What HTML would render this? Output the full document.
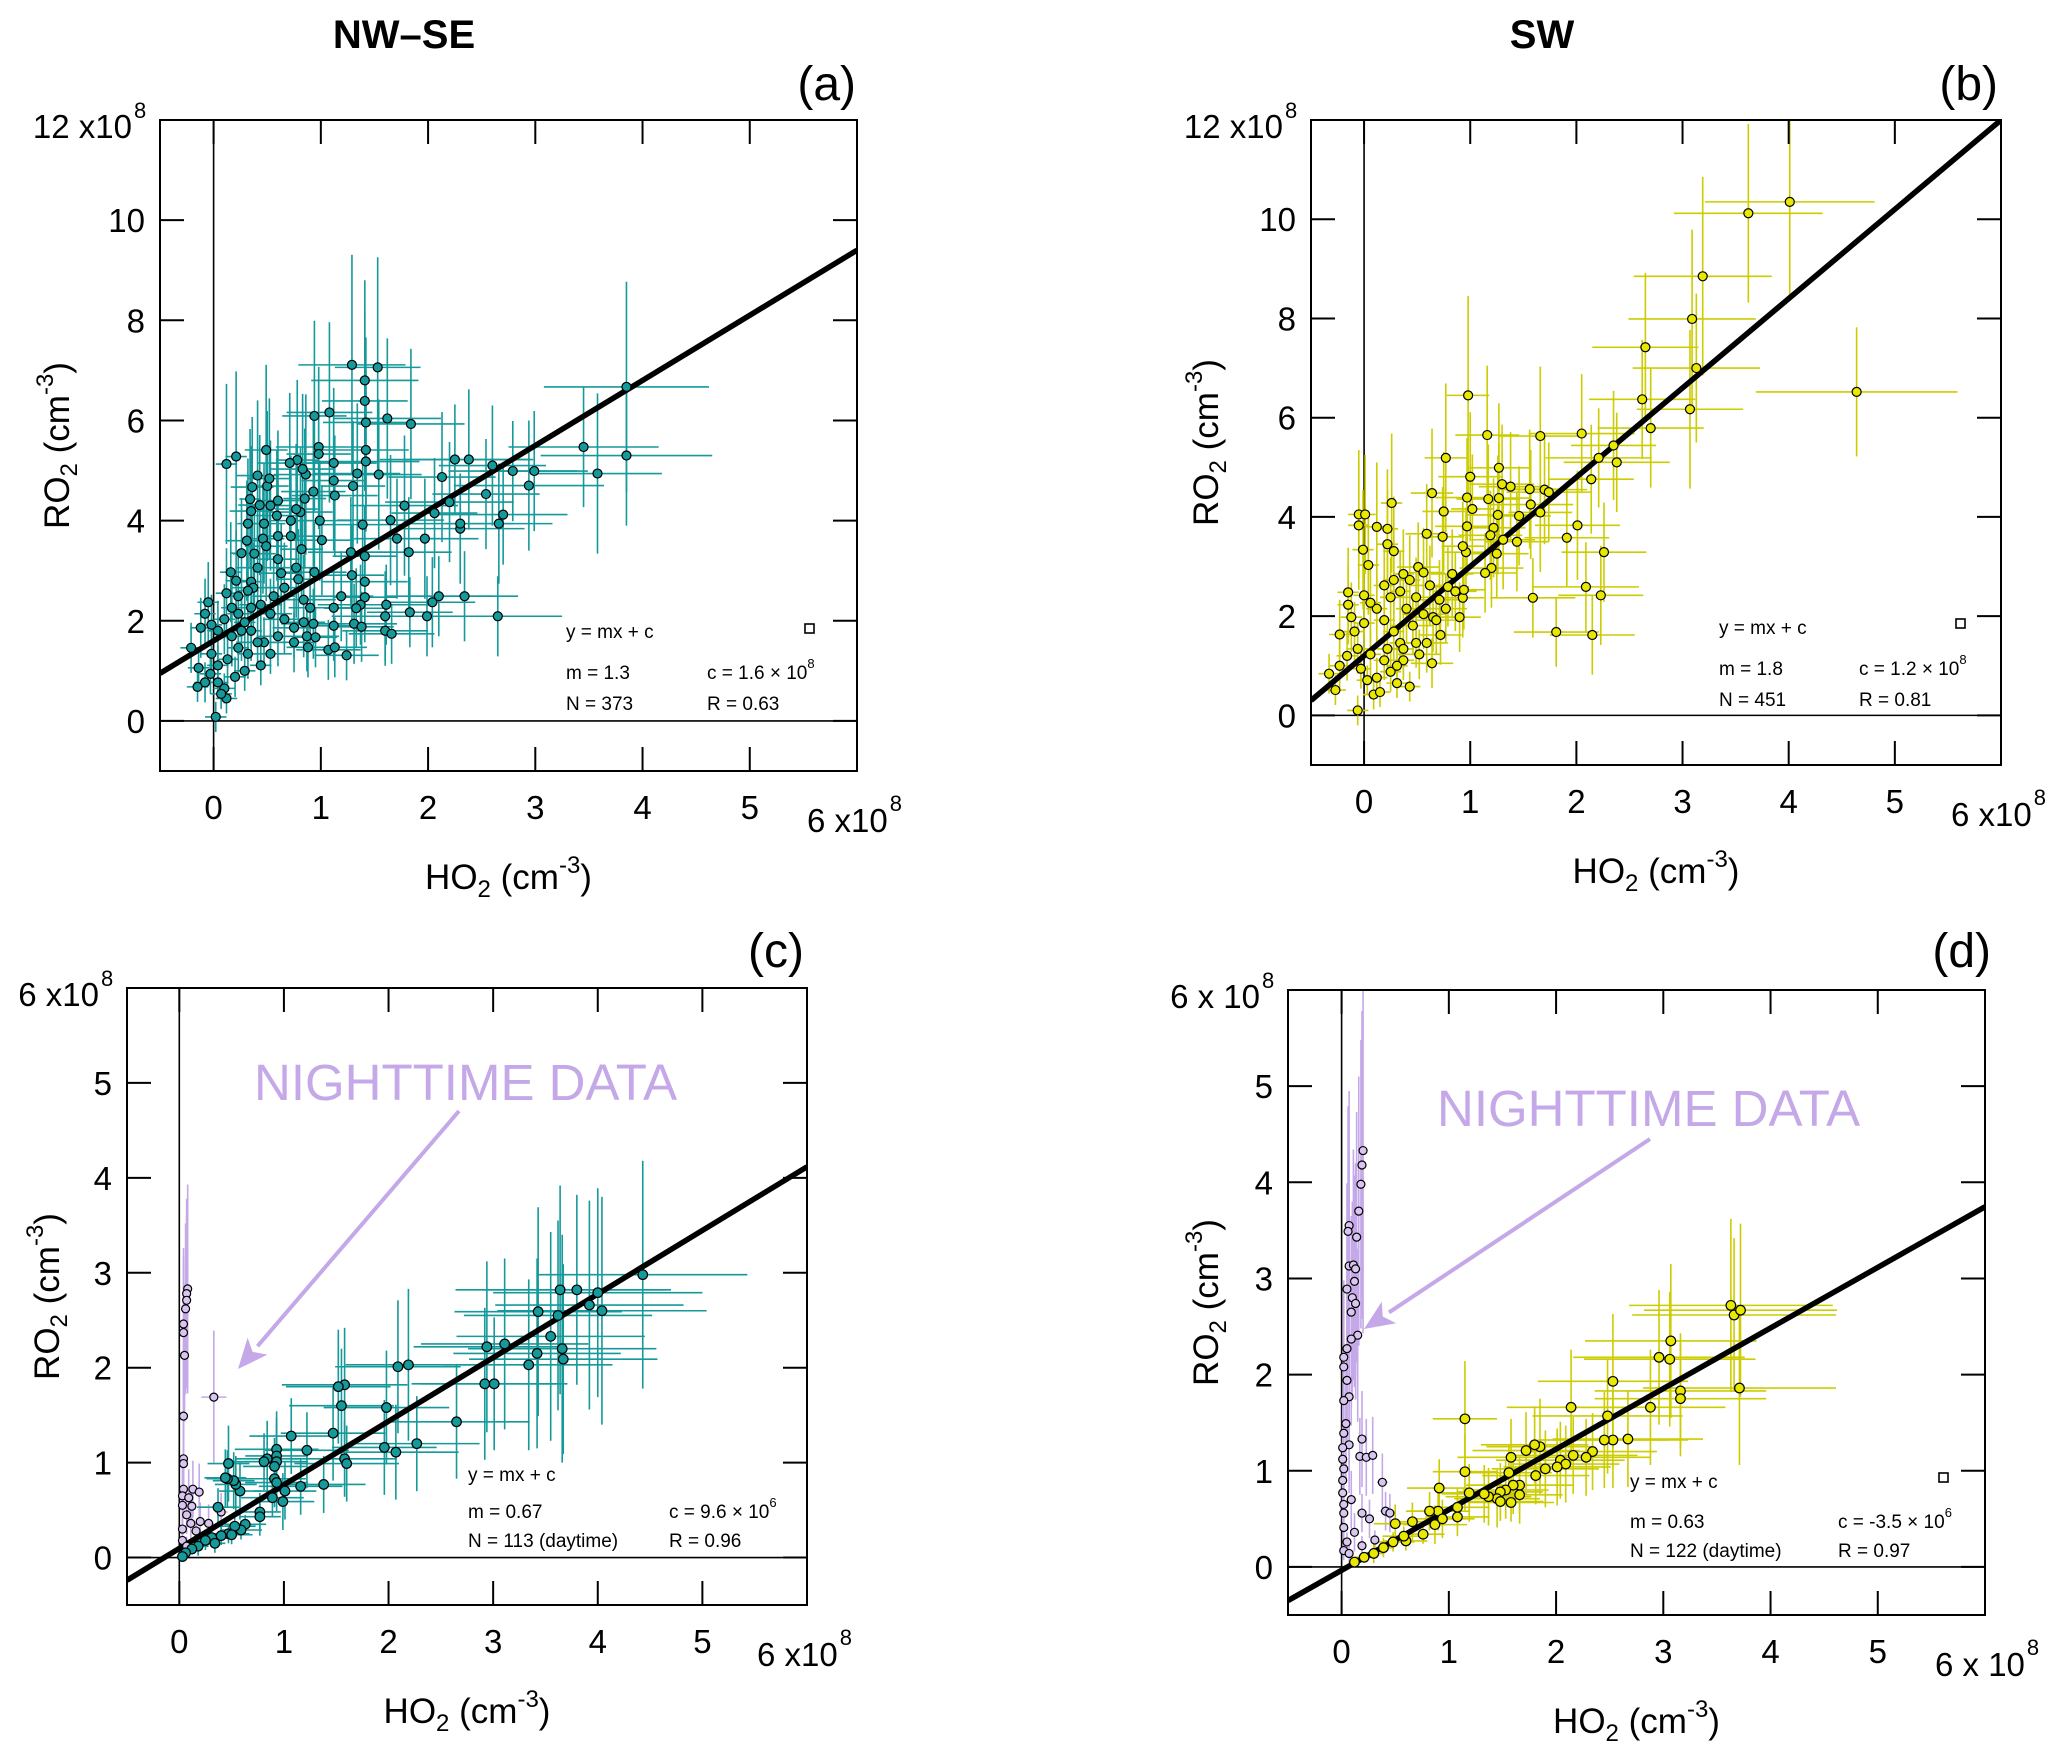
<!DOCTYPE html>
<html><head><meta charset="utf-8"><style>
html,body{margin:0;padding:0;background:#fff}
svg{display:block}
text{font-family:"Liberation Sans",Arial,sans-serif;fill:#000}
</style></head><body>
<svg id="fig" width="2067" height="1758" viewBox="0 0 2067 1758" xmlns="http://www.w3.org/2000/svg">
<text x="404" y="48" font-size="40" font-weight="bold" text-anchor="middle">NW–SE</text>
<text x="1542" y="48" font-size="40" font-weight="bold" text-anchor="middle">SW</text>
</svg>
<script>
// ---- data (units of 1e8 cm^-3): [x, y, xErr, yErr]
const panelA_points = [[3.85,6.67,0.77,2.1],[3.85,5.3,0.8,1.4],[3.45,5.47,0.7,1.2],[3.58,4.94,0.6,1.6],[2.94,4.7,0.7,1.3],[2.99,4.99,0.5,1.2],[2.38,5.22,0.6,1.4],[2.25,5.22,0.7,1.1],[2.6,5.1,0.5,1.2],[2.79,4.99,0.6,1.0],[2.54,4.53,0.5,1.1],[2.2,4.37,0.6,1.2],[2.13,4.87,0.5,1.3],[2.7,4.12,0.6,1.0],[2.66,3.94,0.5,1.2],[2.3,3.84,0.6,1.1],[2.3,3.94,0.5,1.0],[2.06,4.15,0.4,1.1],[1.97,3.64,0.5,1.2],[1.78,4.3,0.5,1.4],[1.82,3.37,0.4,1.1],[1.71,3.64,0.4,1.2],[1.65,4.01,0.5,1.3],[2.65,2.09,0.6,0.8],[2.34,2.49,0.5,0.9],[2.1,2.49,0.5,0.8],[2.04,2.37,0.4,0.9],[1.99,2.09,0.5,0.8],[1.83,2.17,0.4,0.7],[1.61,2.32,0.4,0.8],[1.6,2.09,0.5,0.9],[1.6,1.8,0.4,0.7],[1.66,1.74,0.4,0.6],[1.29,7.11,0.5,2.2],[1.53,7.06,0.4,2.2],[1.41,6.8,0.5,2.0],[1.41,6.39,0.4,1.8],[1.42,5.96,0.4,1.7],[1.62,6.04,0.5,1.6],[1.84,5.93,0.5,1.5],[1.08,6.16,0.4,1.8],[0.94,6.09,0.3,1.9],[0.98,5.47,0.4,1.6],[0.98,5.33,0.3,1.5],[1.12,5.15,0.4,1.5],[1.42,5.41,0.4,1.6],[1.42,5.18,0.5,1.4],[1.54,4.92,0.4,1.5],[1.34,4.94,0.4,1.4],[1.3,4.69,0.3,1.3],[1.13,4.5,0.4,1.2],[1.12,4.8,0.3,1.4],[0.99,4.0,0.3,1.2],[1.01,3.61,0.3,1.1],[1.39,3.92,0.4,1.2],[1.41,3.29,0.3,1.0],[1.28,3.37,0.4,1.1],[1.29,2.91,0.3,1.0],[1.41,2.78,0.4,0.9],[1.41,2.47,0.3,0.9],[1.37,2.32,0.4,0.8],[1.33,2.25,0.3,0.8],[1.31,1.94,0.4,0.8],[1.38,1.88,0.3,0.7],[1.19,2.49,0.3,0.9],[1.12,2.26,0.3,0.8],[1.12,1.9,0.3,0.7],[1.07,1.42,0.3,0.6],[1.13,1.47,0.3,0.6],[1.24,1.31,0.3,0.5],[0.84,2.42,0.3,0.9],[0.9,2.26,0.2,0.8],[0.93,1.94,0.3,0.7],[0.88,1.47,0.2,0.6],[0.87,1.69,0.3,0.7],[0.95,1.67,0.2,0.6],[0.94,2.97,0.3,1.0],[0.93,4.58,0.3,1.5],[0.86,4.92,0.3,1.6],[0.83,5.03,0.3,1.5],[0.78,5.21,0.2,1.6],[0.71,5.15,0.3,1.4],[0.85,4.44,0.2,1.4],[0.81,4.17,0.3,1.3],[0.77,4.23,0.2,1.3],[0.72,4.0,0.2,1.3],[0.72,3.69,0.3,1.2],[0.82,3.43,0.2,1.1],[0.77,3.06,0.2,1.0],[0.79,2.83,0.2,1.0],[0.6,4.4,0.2,1.4],[0.53,4.3,0.2,1.3],[0.59,4.1,0.2,1.3],[0.47,3.94,0.2,1.2],[0.43,4.31,0.2,1.4],[0.5,4.69,0.2,1.5],[0.52,4.84,0.2,1.6],[0.49,5.41,0.2,1.7],[0.41,4.9,0.2,1.5],[0.36,4.67,0.2,1.4],[0.34,4.43,0.1,1.4],[0.35,4.19,0.2,1.3],[0.32,3.94,0.1,1.3],[0.31,3.6,0.2,1.2],[0.26,3.35,0.1,1.1],[0.46,3.64,0.2,1.1],[0.49,3.49,0.2,1.1],[0.38,3.34,0.2,1.0],[0.41,3.06,0.2,1.0],[0.35,2.78,0.1,0.9],[0.37,2.66,0.2,0.9],[0.32,2.6,0.1,0.9],[0.16,2.97,0.1,1.0],[0.21,2.8,0.1,1.0],[0.12,2.55,0.1,0.9],[0.12,5.13,0.1,1.6],[0.21,5.28,0.1,1.7],[0.6,3.69,0.2,1.1],[0.6,3.23,0.2,1.0],[0.63,2.95,0.2,1.0],[0.66,2.66,0.2,0.9],[0.56,2.49,0.2,0.8],[0.44,2.32,0.2,0.8],[0.53,2.14,0.2,0.7],[0.66,2.03,0.2,0.7],[0.75,1.86,0.2,0.6],[0.84,1.97,0.2,0.7],[0.75,1.57,0.2,0.6],[0.6,1.69,0.2,0.6],[0.47,1.57,0.2,0.5],[0.35,1.8,0.1,0.6],[0.29,1.97,0.1,0.7],[0.23,2.14,0.1,0.7],[0.17,2.26,0.1,0.8],[0.1,2.03,0.1,0.7],[0.04,1.8,0.1,0.6],[-0.02,1.92,0.1,0.6],[-0.05,2.37,0.1,0.8],[-0.08,2.14,0.1,0.7],[-0.12,1.86,0.1,0.6],[-0.21,1.46,0.1,0.5],[-0.14,1.06,0.1,0.4],[-0.08,0.77,0.1,0.4],[-0.15,0.68,0.1,0.3],[-0.02,1.34,0.1,0.5],[0.04,1.11,0.1,0.4],[0.13,1.23,0.1,0.5],[0.23,1.46,0.1,0.5],[0.32,1.34,0.1,0.5],[0.41,1.57,0.2,0.5],[0.53,1.34,0.2,0.4],[0.44,1.11,0.1,0.4],[0.29,1.0,0.1,0.4],[0.2,0.88,0.1,0.4],[0.1,0.65,0.1,0.3],[0.04,0.77,0.1,0.3],[0.12,0.45,0.1,0.3],[0.02,0.08,0.1,0.3],[0.07,0.54,0.1,0.3],[-0.03,0.94,0.1,0.4],[0.17,1.69,0.1,0.6],[0.26,1.8,0.1,0.6],[0.35,2.26,0.1,0.8],[0.23,2.49,0.1,0.8]];
const panelB_points = [[4.01,10.35,0.8,2.0],[3.62,10.12,0.7,1.8],[3.19,8.85,0.65,2.0],[3.09,7.99,0.6,1.8],[3.13,7.0,0.6,1.5],[3.07,6.17,0.5,1.6],[2.65,7.42,0.5,1.5],[2.62,6.37,0.5,1.2],[2.7,5.79,0.5,1.2],[4.64,6.52,0.95,1.3],[2.38,5.1,0.5,1.0],[2.35,5.44,0.4,1.1],[2.21,5.19,0.5,1.0],[2.14,4.76,0.4,1.1],[2.05,5.68,0.5,1.2],[2.01,3.83,0.4,1.1],[1.91,3.58,0.4,1.0],[2.26,3.29,0.4,1.0],[2.09,2.59,0.5,0.9],[2.23,2.42,0.4,1.0],[2.15,1.62,0.4,0.8],[1.81,1.68,0.4,0.7],[1.59,2.37,0.4,0.8],[1.66,5.63,0.4,1.4],[1.7,4.55,0.4,1.1],[1.74,4.5,0.4,1.0],[1.66,4.09,0.3,1.2],[1.57,4.25,0.4,1.1],[1.56,4.56,0.3,1.2],[1.46,4.02,0.3,1.0],[1.44,3.5,0.3,1.0],[1.31,3.54,0.3,1.0],[1.26,4.04,0.3,1.2],[1.22,3.78,0.3,1.0],[1.27,4.38,0.3,1.1],[1.3,4.66,0.3,1.2],[1.27,4.99,0.3,1.3],[1.38,4.61,0.3,1.1],[1.17,4.36,0.3,1.1],[1.16,5.65,0.3,1.4],[1.19,3.63,0.3,0.9],[1.25,3.26,0.3,0.9],[1.2,2.97,0.3,0.8],[1.14,2.87,0.3,0.8],[0.98,6.45,0.2,2.0],[1.0,4.81,0.3,1.3],[0.97,4.39,0.3,1.2],[1.02,4.16,0.2,1.1],[0.97,3.81,0.3,1.0],[0.96,3.29,0.2,0.9],[0.93,3.41,0.2,0.9],[0.93,2.37,0.2,0.8],[0.94,2.53,0.2,0.8],[0.9,1.98,0.2,0.7],[0.79,2.59,0.2,0.8],[0.77,5.19,0.2,1.5],[0.75,4.11,0.2,1.2],[0.74,3.6,0.2,1.0],[0.64,4.48,0.2,1.3],[0.59,3.66,0.2,1.0],[0.51,2.99,0.2,0.9],[0.56,2.88,0.2,0.9],[0.71,2.33,0.2,0.8],[0.65,1.98,0.2,0.7],[0.72,1.62,0.2,0.6],[0.59,1.46,0.2,0.6],[0.64,1.05,0.2,0.5],[0.43,0.58,0.1,0.3],[0.26,4.28,0.1,1.4],[0.28,3.31,0.1,1.1],[0.22,3.76,0.1,1.2],[0.22,3.45,0.1,1.1],[0.12,3.8,0.1,1.3],[0.04,3.03,0.1,1.0],[-0.01,3.34,0.1,1.2],[-0.05,3.83,0.1,1.3],[-0.05,4.05,0.1,1.3],[0.01,4.05,0.1,1.2],[0.0,2.42,0.1,0.9],[-0.15,2.48,0.1,0.9],[-0.15,2.23,0.1,0.8],[-0.23,1.63,0.1,0.7],[-0.33,0.84,0.1,0.4],[-0.27,0.51,0.1,0.3],[-0.23,1.0,0.1,0.5],[-0.16,1.2,0.1,0.5],[-0.06,0.1,0.1,0.3],[-0.06,1.34,0.1,0.5],[0.06,1.23,0.1,0.5],[0.19,1.11,0.1,0.4],[0.12,0.76,0.1,0.4],[0.25,0.88,0.1,0.4],[0.09,0.42,0.1,0.3],[0.15,0.47,0.1,0.3],[0.31,0.65,0.1,0.3],[0.37,1.11,0.1,0.4],[0.34,1.46,0.1,0.5],[0.28,1.69,0.1,0.6],[0.19,1.92,0.1,0.7],[0.12,2.15,0.1,0.7],[0.25,2.38,0.1,0.8],[0.34,2.5,0.1,0.8],[0.4,2.15,0.1,0.7],[0.46,1.81,0.2,0.6],[0.56,2.04,0.2,0.7],[0.49,2.38,0.2,0.8],[0.43,2.73,0.1,0.9],[0.37,2.85,0.1,0.9],[0.28,2.73,0.1,0.9],[0.19,2.62,0.1,0.8],[0.06,2.27,0.1,0.8],[0.0,1.86,0.1,0.6],[-0.09,1.69,0.1,0.6],[-0.12,1.98,0.1,0.7],[-0.03,0.94,0.1,0.4],[0.03,0.71,0.1,0.3],[0.22,1.34,0.1,0.5],[0.37,1.34,0.1,0.5],[0.49,1.46,0.2,0.5],[0.68,1.92,0.2,0.7],[0.77,2.15,0.2,0.7],[0.86,2.5,0.2,0.8],[0.83,2.85,0.2,0.9],[0.62,2.62,0.2,0.8],[0.52,1.23,0.2,0.5],[0.31,1.0,0.1,0.4]];
const panelC_day = [[4.43,2.98,1.0,1.2],[4.0,2.79,1.0,1.1],[4.04,2.6,1.0,1.2],[3.92,2.66,0.9,1.1],[3.8,2.82,0.9,1.0],[3.64,2.82,1.0,1.1],[3.62,2.55,0.9,1.0],[3.43,2.59,0.8,1.1],[3.66,2.2,0.9,1.2],[3.67,2.09,0.9,1.0],[3.42,2.15,0.8,1.0],[3.34,2.03,0.8,0.9],[3.55,2.33,0.9,1.1],[3.11,2.25,0.8,0.9],[2.94,2.22,0.7,0.9],[2.92,1.83,0.7,0.8],[3.01,1.83,0.7,0.7],[2.65,1.43,0.7,0.6],[2.19,2.03,0.6,0.8],[2.09,2.01,0.6,0.7],[1.98,1.58,0.6,0.6],[1.96,1.16,0.5,0.5],[2.07,1.11,0.6,0.5],[2.27,1.2,0.6,0.5],[1.58,1.82,0.6,0.6],[1.52,1.8,0.5,0.6],[1.55,1.6,0.5,0.6],[1.47,1.31,0.5,0.5],[1.58,1.04,0.5,0.4],[1.6,0.99,0.5,0.4],[1.38,0.77,0.4,0.3],[1.16,0.75,0.4,0.3],[1.22,1.13,0.4,0.4],[1.07,1.28,0.4,0.4],[1.01,0.7,0.3,0.3],[0.99,0.59,0.3,0.3],[0.93,1.14,0.4,0.4],[0.93,1.07,0.3,0.4],[0.93,1.01,0.3,0.4],[0.91,0.96,0.3,0.3],[0.91,0.83,0.3,0.3],[0.93,0.79,0.3,0.3],[0.89,0.63,0.3,0.2],[0.84,1.04,0.3,0.4],[0.81,1.01,0.3,0.3],[0.77,0.48,0.2,0.2],[0.77,0.43,0.2,0.2],[0.58,0.7,0.2,0.3],[0.54,0.77,0.2,0.3],[0.52,0.81,0.2,0.3],[0.46,0.83,0.2,0.3],[0.44,0.84,0.2,0.3],[0.47,0.99,0.2,0.4],[0.37,0.53,0.2,0.2],[0.63,0.35,0.2,0.1],[0.59,0.29,0.2,0.1],[0.53,0.33,0.2,0.1],[0.47,0.25,0.2,0.1],[0.4,0.23,0.1,0.1],[0.31,0.21,0.1,0.1],[0.25,0.18,0.1,0.1],[0.18,0.12,0.1,0.1],[0.12,0.09,0.1,0.05],[0.06,0.05,0.05,0.05],[0.03,0.01,0.05,0.05],[0.5,0.24,0.2,0.1],[0.34,0.15,0.1,0.1]];
const panelC_night = [[0.08,2.83,0.02,1.1],[0.07,2.78,0.02,1.0],[0.07,2.71,0.02,0.9],[0.06,2.62,0.02,0.9],[0.04,2.46,0.02,0.8],[0.04,2.37,0.02,0.8],[0.05,2.13,0.02,0.7],[0.04,1.49,0.02,0.6],[0.04,1.04,0.02,0.4],[0.04,0.99,0.02,0.4],[0.33,1.69,0.12,0.7],[0.04,0.72,0.02,0.3],[0.03,0.65,0.02,0.3],[0.09,0.63,0.03,0.3],[0.13,0.72,0.03,0.3],[0.19,0.69,0.04,0.3],[0.12,0.54,0.03,0.2],[0.07,0.45,0.02,0.2],[0.11,0.36,0.02,0.2],[0.16,0.28,0.03,0.1],[0.2,0.38,0.04,0.2],[0.03,0.3,0.02,0.1],[0.03,0.18,0.02,0.1],[0.07,0.12,0.02,0.1],[0.4,0.48,0.06,0.2],[0.28,0.36,0.05,0.2],[0.03,0.55,0.02,0.2]];
const panelD_day = [[3.63,2.72,0.95,0.9],[3.66,2.62,0.95,0.8],[3.72,2.67,0.9,0.9],[3.71,1.86,0.9,0.8],[3.07,2.35,0.8,0.8],[2.96,2.18,0.8,0.7],[3.06,2.16,0.8,0.7],[3.16,1.83,0.8,0.6],[3.16,1.75,0.8,0.6],[2.88,1.66,0.7,0.6],[2.53,1.93,0.7,0.7],[2.48,1.57,0.7,0.6],[2.53,1.32,0.7,0.5],[2.45,1.32,0.6,0.5],[2.67,1.33,0.7,0.5],[2.34,1.2,0.6,0.4],[2.28,1.14,0.6,0.4],[2.14,1.66,0.6,0.6],[2.16,1.16,0.6,0.4],[2.04,1.11,0.6,0.4],[2.09,1.07,0.5,0.4],[2.01,1.04,0.5,0.4],[1.9,1.02,0.5,0.4],[1.85,1.25,0.5,0.5],[1.8,1.27,0.5,0.4],[1.72,1.21,0.5,0.4],[1.81,0.95,0.5,0.3],[1.66,0.85,0.5,0.3],[1.66,0.75,0.4,0.3],[1.58,1.14,0.5,0.4],[1.56,0.98,0.4,0.3],[1.6,0.85,0.4,0.3],[1.53,0.8,0.4,0.3],[1.48,0.78,0.4,0.3],[1.45,0.71,0.4,0.3],[1.58,0.67,0.4,0.2],[1.48,0.68,0.4,0.2],[1.37,0.73,0.4,0.3],[1.33,0.76,0.4,0.3],[1.15,1.54,0.3,0.6],[1.15,0.99,0.3,0.4],[1.19,0.77,0.3,0.3],[1.08,0.62,0.3,0.2],[1.08,0.52,0.3,0.2],[0.91,0.82,0.3,0.3],[0.9,0.58,0.3,0.2],[0.87,0.44,0.3,0.2],[0.82,0.58,0.2,0.2],[0.66,0.47,0.2,0.2],[0.76,0.34,0.2,0.1],[0.6,0.27,0.2,0.1],[0.5,0.45,0.2,0.2],[0.48,0.26,0.2,0.1],[0.39,0.2,0.1,0.1],[0.3,0.14,0.1,0.1],[0.21,0.1,0.1,0.05],[0.12,0.05,0.05,0.05],[0.58,0.32,0.2,0.1],[0.94,0.5,0.3,0.2]];
const panelD_night = [[0.2,4.33,0.03,1.9],[0.19,4.18,0.03,1.6],[0.18,3.98,0.03,1.5],[0.16,3.7,0.03,1.4],[0.07,3.55,0.02,1.4],[0.06,3.49,0.02,1.3],[0.14,3.43,0.03,1.3],[0.07,3.13,0.02,1.2],[0.11,3.14,0.02,1.2],[0.13,3.1,0.02,1.1],[0.12,2.97,0.02,1.1],[0.05,2.89,0.02,1.1],[0.1,2.8,0.02,1.0],[0.13,2.74,0.02,1.0],[0.09,2.65,0.02,1.0],[0.15,2.41,0.03,0.9],[0.09,2.37,0.02,0.9],[0.05,2.27,0.02,0.8],[0.02,2.18,0.02,0.8],[0.02,2.08,0.02,0.8],[0.05,1.94,0.02,0.7],[0.07,1.77,0.02,0.7],[0.02,1.73,0.02,0.6],[0.04,1.49,0.02,0.6],[0.02,1.39,0.02,0.5],[0.07,1.27,0.02,0.5],[0.01,1.24,0.02,0.5],[0.17,1.15,0.03,0.4],[0.23,1.14,0.03,0.4],[0.29,1.16,0.04,0.4],[0.19,1.33,0.03,0.5],[0.38,0.88,0.05,0.3],[0.02,1.02,0.02,0.4],[0.01,0.9,0.02,0.4],[0.09,0.7,0.02,0.3],[0.02,0.65,0.02,0.3],[0.19,0.56,0.03,0.2],[0.41,0.58,0.05,0.2],[0.45,0.56,0.05,0.2],[0.26,0.5,0.03,0.2],[0.02,0.41,0.02,0.2],[0.12,0.36,0.02,0.2],[0.05,0.26,0.02,0.1],[0.19,0.22,0.03,0.1],[0.31,0.28,0.04,0.1],[0.02,0.17,0.02,0.1],[0.07,0.14,0.02,0.1],[0.02,0.56,0.02,0.2],[0.01,0.77,0.02,0.3],[0.01,1.12,0.02,0.4]];
const fitSlopes = [1.3, 1.8, 0.67, 0.63];
const fitIntercepts = [1.6, 1.2, 0.096, -0.035];
const xTickLabels = ["0","1","2","3","4","5"];
const yTickLabelsTop = ["0","2","4","6","8","10"];
const yTickLabelsBottom = ["0","1","2","3","4","5"];

const NS = "http://www.w3.org/2000/svg";
const svg = document.getElementById('fig');
function mk(tag, attrs, parent){
  const e = document.createElementNS(NS, tag);
  for (const k in attrs) e.setAttribute(k, attrs[k]);
  (parent||svg).appendChild(e);
  return e;
}
const TEAL = "#15999a", YEL = "#cccc00", YELF = "#e8e800", LAV = "#c4a8e8", LAVF = "#d8c6f0";

const panels = [
 {key:'a', box:[160,120,857,771], ymax:12, ymin:-1, ystep:2, yLabels:yTickLabelsTop, day:panelA_points, night:null, bar:TEAL, fill:TEAL, r:4.5,
  label:"(a)", lx:856, ly:100, yTop:"12 x10", xEnd:"6 x10", stats:["1.3","373","1.6 × 10","0.63"], statY:[133,92,61], statX:[406,547], sq:[47,142], ytx:103},
 {key:'b', box:[1311,120,2001,765], ymax:12, ymin:-1, ystep:2, yLabels:yTickLabelsTop, day:panelB_points, night:null, bar:YEL, fill:YELF, r:4.5,
  label:"(b)", lx:1998, ly:100, yTop:"12 x10", xEnd:"6 x10", stats:["1.8","451","1.2 × 10","0.81"], statY:[131,90,59], statX:[408,548], sq:[40,141], ytx:105},
 {key:'c', box:[127,988,807,1605], ymax:6, ymin:-0.5, ystep:1, yLabels:yTickLabelsBottom, day:panelC_day, night:panelC_night, bar:TEAL, fill:TEAL, r:4.8,
  label:"(c)", lx:804, ly:967, yTop:"6 x10", xEnd:"6 x10", stats:["0.67","113 (daytime)","9.6 × 10","0.96"], sup2:"6", statY:[124,87,58], statX:[341,542], sq:null, ytx:80,
  night_text:[254,1100], arrow:[459,1111,238,1369]},
 {key:'d', box:[1288,990,1985,1615], ymax:6, ymin:-0.5, ystep:1, yLabels:yTickLabelsBottom, day:panelD_day, night:panelD_night, bar:YEL, fill:YELF, r:4.8,
  label:"(d)", lx:1991, ly:967, yTop:"6 x 10", xEnd:"6 x 10", stats:["0.63","122 (daytime)","-3.5 × 10","0.97"], sup2:"6", statY:[127,87,58], statX:[342,550], sq:[41,137], ytx:82,
  night_text:[1437,1126], arrow:[1650,1139,1364,1329]}
];

panels.forEach((p, pi) => {
  const [L,T,R,B] = p.box;
  const xs = v => L + (v + 0.5) / 6.5 * (R - L);
  const ys = v => B - (v - p.ymin) / (p.ymax - p.ymin) * (B - T);
  const g = mk('g', {});
  
  
  const clipId = 'clip' + p.key;
  const cp = mk('clipPath', {id: clipId}, g);
  mk('rect', {x:L, y:T, width:R-L, height:B-T}, cp);

  const zl = mk('line', {x1:xs(0), x2:xs(0), y1:T, y2:B, stroke:'#000', 'stroke-width':1.6}, g);
  
  
  const zh = mk('line', {x1:L, x2:R, y1:ys(0), y2:ys(0), stroke:'#000', 'stroke-width':1.6}, g);
  
  

  const data = mk('g', {'clip-path':'url(#' + clipId + ')'}, g);
  
  

  function drawSet(arr, barCol, name){
    const eb = mk('g', {stroke:barCol, 'stroke-width':1.6}, data);
    
    
    arr.forEach(d => {
      mk('line', {x1:xs(d[0]-d[2]), x2:xs(d[0]+d[2]), y1:ys(d[1]), y2:ys(d[1])}, eb);
      mk('line', {x1:xs(d[0]), x2:xs(d[0]), y1:ys(d[1]-d[3]), y2:ys(d[1]+d[3])}, eb);
    });
  }
  function drawPts(arr, fillCol, r, name){
    const pg = mk('g', {}, data);
    
    
    arr.forEach(d => {
      const c = mk('circle', {cx:xs(d[0]), cy:ys(d[1]), r:r, fill:fillCol, stroke:'#000', 'stroke-width':1.2}, pg);
      
      
    });
  }
  if (p.night) drawSet(p.night, LAV, 'night');
  drawSet(p.day, p.bar, 'day');
  const m = fitSlopes[pi], c0 = fitIntercepts[pi];
  const fl = mk('line', {x1:xs(-0.5), y1:ys(m*-0.5+c0), x2:xs(6), y2:ys(m*6+c0), stroke:'#000', 'stroke-width':5.5}, data);
  
  
  if (p.night) drawPts(p.night, LAVF, 4, 'night');
  drawPts(p.day, p.fill, p.r, 'day');

  const fr = mk('rect', {x:L, y:T, width:R-L, height:B-T, fill:'none', stroke:'#000', 'stroke-width':2}, g);
  
  

  const tk = mk('g', {stroke:'#000', 'stroke-width':2}, g);
  
  
  for (let i = 0; i <= 5; i++) {
    const x = xs(i);
    mk('line', {x1:x, x2:x, y1:B, y2:B-24}, tk);
    mk('line', {x1:x, x2:x, y1:T, y2:T+24}, tk);
    const t = mk('text', {x:x, y:B+48, 'font-size':33, 'text-anchor':'middle'}, g);
    
    
    t.textContent = xTickLabels[i];
  }
  for (let i = 0; i < p.yLabels.length; i++) {
    const v = i * p.ystep, y = ys(v);
    mk('line', {x1:L, x2:L+24, y1:y, y2:y}, tk);
    mk('line', {x1:R, x2:R-24, y1:y, y2:y}, tk);
    const t = mk('text', {x:L-15, y:y+12, 'font-size':33, 'text-anchor':'end'}, g);
    
    
    t.textContent = p.yLabels[i];
  }
  const yt = mk('text', {x:L-28, y:T+18, 'font-size':33, 'text-anchor':'end'}, g);
  
  
  yt.textContent = p.yTop;
  const ye = mk('text', {x:L-26, y:T-2, 'font-size':22}, g);
  
  
  ye.textContent = '8';
  const xe = mk('text', {x:R-50, y:B+61, 'font-size':33}, g);
  
  
  xe.textContent = p.xEnd;
  const xeb = xe.getBBox();
  const xex = mk('text', {x:xeb.x+xeb.width+2, y:B+40, 'font-size':22}, g);
  
  
  xex.textContent = '8';

  const xtt = mk('text', {x:(L+R)/2, y:B+118, 'font-size':35, 'text-anchor':'middle'}, g);
  
  
  xtt.innerHTML = 'HO<tspan font-size="24" dy="8">2</tspan><tspan dy="-8"> (cm</tspan><tspan font-size="24" dy="-16">-3</tspan><tspan dy="16">)</tspan>';
  const cy = (T+B)/2, cx = L - p.ytx;
  const ytt = mk('text', {x:cx, y:cy, 'font-size':35, 'text-anchor':'middle', transform:'rotate(-90 '+cx+' '+cy+')', dy:12}, g);
  
  
  ytt.innerHTML = 'RO<tspan font-size="24" dy="8">2</tspan><tspan dy="-8"> (cm</tspan><tspan font-size="24" dy="-16">-3</tspan><tspan dy="16">)</tspan>';

  const pl = mk('text', {x:p.lx, y:p.ly, 'font-size':48, 'text-anchor':'end'}, g);
  
  
  pl.textContent = p.label;

  const sx1 = L + p.statX[0], sx2 = L + p.statX[1];
  const st = mk('g', {'font-size':19}, g);
  
  
  const s1 = mk('text', {x:sx1, y:B-p.statY[0]}, st); s1.textContent = 'y = mx + c';
  const s2 = mk('text', {x:sx1, y:B-p.statY[1]}, st); s2.textContent = 'm = ' + p.stats[0];
  const s3 = mk('text', {x:sx1, y:B-p.statY[2]}, st); s3.textContent = 'N = ' + p.stats[1];
  const s4 = mk('text', {x:sx2, y:B-p.statY[1]}, st);
  s4.innerHTML = 'c = ' + p.stats[2] + '<tspan font-size="13" dy="-11">' + (p.sup2||'8') + '</tspan>';
  const s5 = mk('text', {x:sx2, y:B-p.statY[2]}, st); s5.textContent = 'R = ' + p.stats[3];
  if (p.sq) {
    const sq = mk('rect', {x:R-p.sq[0]-5, y:B-p.sq[1]-5, width:9, height:9, fill:'none', stroke:'#000', 'stroke-width':1.6}, g);
    
    
  }
  if (p.night_text) {
    const nt = mk('text', {x:p.night_text[0], y:p.night_text[1], 'font-size':51}, g);
    
    
    nt.style.fill = LAV;
    nt.textContent = 'NIGHTTIME DATA';
    const [ax1, ay1, ax2, ay2] = p.arrow;
    const ang = Math.atan2(ay2-ay1, ax2-ax1), hl = 30, hw = 13;
    const bx = ax2 - hl*Math.cos(ang), by = ay2 - hl*Math.sin(ang);
    const ag = mk('g', {}, g);
    
    
    mk('line', {x1:ax1, y1:ay1, x2:bx, y2:by, stroke:LAV, 'stroke-width':4}, ag);
    const px = -Math.sin(ang)*hw, py = Math.cos(ang)*hw;
    mk('polygon', {points:`${ax2},${ay2} ${bx+px},${by+py} ${bx+hl*0.25*Math.cos(ang)},${by+hl*0.25*Math.sin(ang)} ${bx-px},${by-py}`, fill:LAV}, ag);
  }
});
</script>
</body></html>
